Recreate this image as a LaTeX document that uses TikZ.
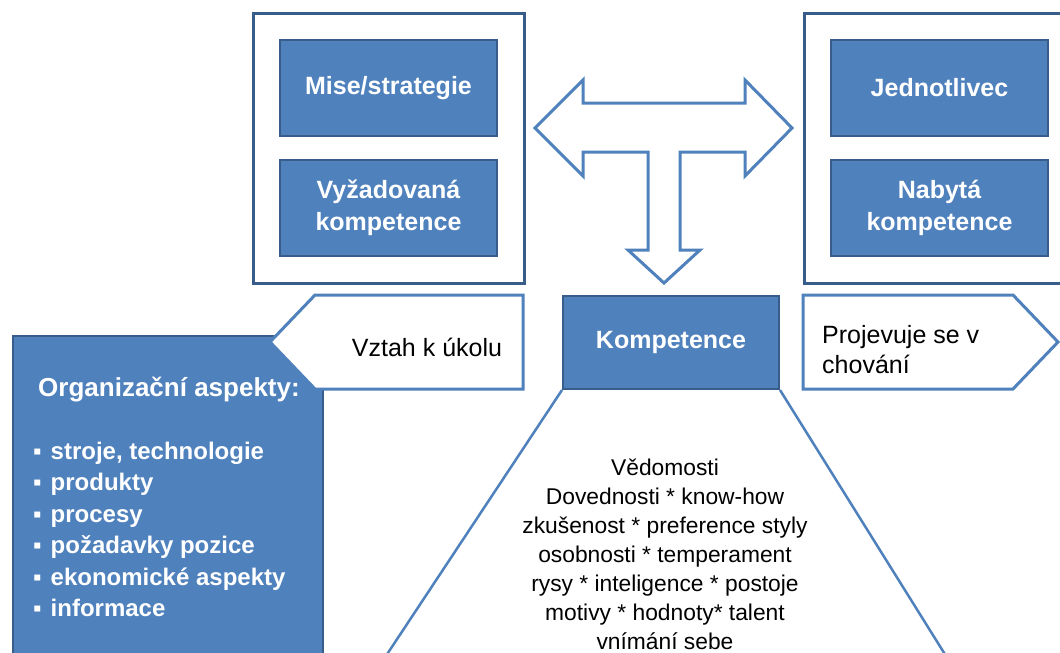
\documentclass[tikz,border=0pt]{standalone}
\usepackage{fontspec}
\setmainfont{Liberation Sans}
\usepackage{tikz}
\definecolor{modra}{HTML}{4F81BD}
\definecolor{tmava}{HTML}{385D8A}
\newcommand{\odr}{▪\hspace{9pt}}

\begin{document}
\begin{tikzpicture}[x=1pt,y=-1pt,
    bluebox/.style={fill=modra,draw=tmava,line width=2pt,text=white,align=center,inner sep=0pt,
      font=\bfseries\fontsize{25}{32}\selectfont},
    whitetext/.style={text=white,inner sep=0pt},
    frame/.style={draw=tmava,line width=3pt},
    outline/.style={draw=modra,line width=3pt,fill=white,line join=miter},
    label/.style={inner sep=0pt,font=\fontsize{25}{30}\selectfont}]
    \useasboundingbox (0,0) rectangle (1060,653);
    \clip (0,0) rectangle (1060,653);
    \fill[white] (0,0) rectangle (1060,653);

    \draw[frame] (253,13) rectangle (524,283);
    \draw[frame] (804,13) rectangle (1080,283);
    \node[bluebox,minimum width=217pt,minimum height=96pt] (mise) at (388.5,88) {Mise/strategie};
    \node[bluebox,minimum width=217pt,minimum height=96pt] (vyzad) at (388.5,208) {Vyžadovaná\\kompetence};
    \node[bluebox,minimum width=217pt,minimum height=96pt] (jedn) at (939.5,88) {Jednotlivec};
    \node[bluebox,minimum width=217pt,minimum height=96pt] (nabyta) at (939.5,208) {Nabytá\\kompetence};

    \draw[outline] (535,128) -- (583,80) -- (583,103) -- (745,103) -- (745,80) -- (792,128)
      -- (745,176) -- (745,152) -- (680,152) -- (680,250) -- (700,250) -- (664,283)
      -- (628,250) -- (648,250) -- (648,152) -- (583,152) -- (583,176) -- cycle;

    \node[bluebox,anchor=north west,minimum width=310pt,minimum height=340pt] (org) at (12,335) {};
    \node[whitetext,font=\bfseries\fontsize{26}{30}\selectfont] (orgtit) at (169,390) {Organizační aspekty:};
    \node[whitetext,anchor=west,align=left,font=\bfseries\fontsize{24}{31.4}\selectfont] (orglist) at (33,529.5)
      {\odr stroje, technologie\\\odr produkty\\\odr procesy\\\odr požadavky pozice\\\odr ekonomické aspekty\\\odr informace};

    \draw[outline] (523,295) -- (315,295) -- (270,342) -- (315,389) -- (523,389) -- cycle;
    \node[label] (vztah) at (427,347) {Vztah k úkolu};
    \draw[outline] (803,295) -- (1013,295) -- (1058,342) -- (1013,389) -- (803,389) -- cycle;
    \node[label,anchor=west,align=left] (projev) at (822,350) {Projevuje se v\\chování};

    \node[bluebox,anchor=north west,minimum width=216pt,minimum height=93pt] (kom) at (562,295) {Kompetence};
    \coordinate (trapl) at (370,680);
    \coordinate (trapr) at (961,680);
    \draw[modra,line width=2.5pt] (kom.south west) -- (trapl);
    \draw[modra,line width=2.5pt] (kom.south east) -- (trapr);
    \node[label,align=center,font=\fontsize{22.8}{29}\selectfont] (obsah) at (665,554)
      {Vědomosti\\Dovednosti * know-how\\zkušenost * preference styly\\osobnosti * temperament\\rysy * inteligence * postoje\\motivy * hodnoty* talent\\vnímání sebe};
\end{tikzpicture}
\end{document}
